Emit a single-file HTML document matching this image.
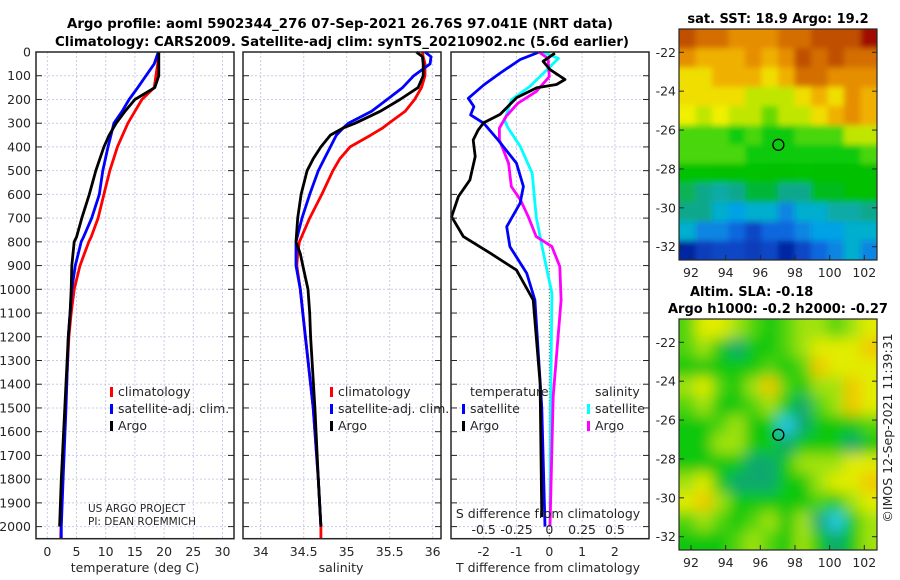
<!DOCTYPE html>
<html><head><meta charset="utf-8">
<style>
html,body{margin:0;padding:0;background:#fff;}
svg{display:block;font-family:"DejaVu Sans","Liberation Sans",sans-serif;}
</style></head>
<body>
<svg id="fig" width="900" height="580" viewBox="0 0 900 580" xmlns="http://www.w3.org/2000/svg">
<defs>
<clipPath id="clipSST"><rect x="679" y="29" width="198" height="231"/></clipPath>
<clipPath id="clipSLA"><rect x="679" y="319" width="198" height="231"/></clipPath>
<filter id="blurS" x="-20%" y="-20%" width="140%" height="140%"><feGaussianBlur stdDeviation="3"/></filter>
<filter id="blurL" x="-20%" y="-20%" width="140%" height="140%"><feGaussianBlur stdDeviation="7"/></filter>
</defs>
<g id="titles">
<text x="340" y="28" text-anchor="middle" font-weight="bold" font-size="13" textLength="546" lengthAdjust="spacingAndGlyphs">Argo profile: aoml 5902344_276 07-Sep-2021 26.76S 97.041E (NRT data)</text>
<text x="342" y="46" text-anchor="middle" font-weight="bold" font-size="13" textLength="574" lengthAdjust="spacingAndGlyphs">Climatology: CARS2009. Satellite-adj clim: synTS_20210902.nc (5.6d earlier)</text>
</g>
<g id="layer"></g>
</svg>
<script>
// ---------- data ----------
const tempDepths = [0,50,100,150,200,250,300,350,400,500,600,700,780,800,900,1000,1100,1200,1500,1800,2000,2050];
const tempClim   = [19.1,18.9,18.6,18.3,16.2,15.0,13.8,12.9,12.0,10.7,9.7,8.7,7.5,7.1,5.6,4.6,4.1,3.7,3.1,2.6,2.35,2.3];
const tempSat    = [19.0,18.3,16.9,15.5,14.0,12.8,11.4,10.9,10.4,9.5,8.9,7.6,6.2,5.8,4.8,4.2,3.9,3.6,3.2,2.7,2.4,2.4];
const tempArgo   = [19.1,19.1,19.1,18.4,15.0,13.3,11.8,10.6,9.7,8.3,7.2,5.9,5.0,4.6,4.2,4.1,3.9,3.6,3.0,2.4,2.1,null];

const salDepths = [0,20,50,100,150,200,250,300,320,350,400,450,500,600,700,800,850,900,1000,1100,1200,1500,1800,2000,2050];
const salClim   = [35.88,35.89,35.91,35.91,35.87,35.79,35.68,35.49,35.42,35.28,35.04,34.92,34.84,34.71,34.57,34.45,34.43,34.42,34.46,34.49,34.52,34.61,34.67,34.70,34.70];
const salSat    = [35.91,35.98,35.97,35.78,35.65,35.47,35.29,35.02,34.96,34.88,34.81,34.74,34.67,34.57,34.48,34.41,34.41,34.41,34.46,34.49,34.52,34.61,34.67,34.70,null];
const salArgo   = [35.81,35.88,35.89,35.89,35.83,35.62,35.39,35.10,34.96,34.81,34.70,34.61,34.54,34.47,34.43,34.41,34.46,34.49,34.55,34.57,34.58,34.63,34.67,34.70,null];

const dTsatDepths = [2,32,89,139,195,230,265,300,371,469,567,637,736,820,932,1045,1500,2000];
const dTsat       = [-0.34,-0.89,-1.5,-2.0,-2.47,-2.3,-2.4,-2.0,-1.56,-1.0,-0.79,-0.89,-1.3,-1.2,-0.69,-0.44,-0.23,-0.13];
const dTargoDepths = [5,39,74,116,137,151,193,263,298,329,371,441,539,609,694,778,848,919,1045,1395,1960];
const dTargo       = [0.17,-0.19,0.02,0.48,0.22,-0.38,-1.0,-1.5,-2.0,-2.17,-2.32,-2.26,-2.42,-2.77,-2.98,-2.62,-1.8,-1.0,-0.49,-0.28,-0.23];
const dSsatDepths = [0,27,76,146,202,287,315,399,511,694,834,1017,1500,2000];
const dSsat       = [-0.05,0.07,-0.02,-0.15,-0.29,-0.34,-0.32,-0.22,-0.13,-0.10,-0.05,0.02,0.01,0.005];
const dSargoDepths = [0,27,104,167,216,272,321,371,469,567,623,694,778,820,904,1045,1450,2000];
const dSargo       = [-0.08,-0.01,0.0,-0.1,-0.24,-0.33,-0.38,-0.38,-0.31,-0.29,-0.22,-0.16,-0.10,0.02,0.08,0.09,0.03,0.005];

const depthTicks = [0,100,200,300,400,500,600,700,800,900,1000,1100,1200,1300,1400,1500,1600,1700,1800,1900,2000];
const tempTicks = [0,5,10,15,20,25,30];
const salTicks = [34,34.5,35,35.5,36];
const salTickLabels = ["34","34.5","35","35.5","36"];
const dTTicks = [-2,-1,0,1,2];
const dSTicks = [-0.5,-0.25,0,0.25,0.5];
const dSTickLabels = ["-0.5","-0.25","0","0.25","0.5"];

const sstGrid = [
[22.5,22,22,21.5,21.5,21.5,22,22,22.5,22.5,22.5,23],
[21.5,21,21,21,21.5,21,21.5,22.5,22,22.5,22,22],
[20.5,20.5,21,21,21,20.5,21,22,22,21.5,21.5,21.5],
[20.5,20.5,20.5,20.5,20,20,20,20.5,21,20.5,21.5,21],
[20.3,20,20.3,20,20,19.6,20,20,20.5,21,21.5,21],
[19.5,19.5,19.5,19.2,19.5,19,19,19.5,19.5,19.5,20,20],
[19.5,19.5,19.5,19.5,19,19,19,19,19,19,19,19.5],
[18.6,18.6,18.5,18.5,18.6,18.5,18.5,18.6,18.5,18.5,18.5,18.5],
[18.2,18,17.8,18,18.3,18.3,18,18,18.4,18.4,18.5,18.5],
[18,18,17.5,17.2,17.5,17.5,17,17.5,17.5,17.8,17.8,18],
[17.5,17,17,16.8,16.5,16.8,16.8,17,17.2,17.2,17.5,17.5],
[16.2,16.4,16.5,16.5,16.4,16.5,16.2,16.5,16.8,17,17.5,17]];
const slaGrid = [
[3,5,5,4,3,2,3,4,4,3,4,5],
[3,4,2,1,2,2,3,4,5,5,5,6],
[2,2,2,2,2,3,2,3,6,5,5,5],
[4,5,3,2,4,6,3,2,4,4,6,5],
[3,4,2,2,3,4,2,1,3,4,6,5],
[2,2,3,4,2,2,0,1,2,2,2,3],
[2,2,4,4,2,2,1,2,2,2,1,2],
[2,2,2,2,1,1,2,4,4,4,5,5],
[4,5,2,1,1,1,2,2,4,5,5,6],
[5,6,4,2,2,2,2,2,3,2,4,5],
[3,4,3,2,3,4,2,4,1,0,2,4],
[2,2,2,3,4,3,2,4,2,1,2,4]];
const argoLon = 97.041, argoLat = -26.76;
const lonTicks = [92,94,96,98,100,102];
const latTicks = [-22,-24,-26,-28,-30,-32];

// ---------- scales ----------
const yD = d => 52 + d*0.2373;
const xT = t => 47.3 + t*5.84;
const xS = s => 260.7 + (s-34)*86;
const xdT = t => 549.3 + t*32.8;
const xdS = s => 549.3 + s*131.2;
const mapX = lon => 691 + (lon-92)*17.33;
const mapYtop = lat => 52.3 + (-22-lat)*19.44;
const mapYbot = lat => 342.3 + (-22-lat)*19.44;

const NS="http://www.w3.org/2000/svg";
const layer=document.getElementById('layer');
function mk(tag, attrs, parent){const e=document.createElementNS(NS,tag);for(const k in attrs)e.setAttribute(k,attrs[k]);(parent||layer).appendChild(e);return e;}
function txt(x,y,s,size,anchor,parent){const t=mk('text',{x:x,y:y,'font-size':size,'text-anchor':anchor||'middle',fill:'#262626'},parent);t.textContent=s;return t;}

const panels=[{x0:36,x1:234,name:'temperature-panel'},{x0:243,x1:441,name:'salinity-panel'},{x0:451,x1:649,name:'difference-panel'}];
const Y0=52, Y1=538.7;
panels.forEach((p,i)=>{
  const g=mk('g',{});
  
  
  p.g=g;
  depthTicks.forEach(d=>{
    const l=mk('line',{x1:p.x0,x2:p.x1,y1:yD(d),y2:yD(d),stroke:'#c9cde6','stroke-width':1,'stroke-dasharray':'2,2'},g);
    
    
  });
});
function vgrid(g,x){const l=mk('line',{x1:x,x2:x,y1:Y0,y2:Y1,stroke:'#c9cde6','stroke-width':1,'stroke-dasharray':'2,2'},g);
  
  }
tempTicks.forEach(t=>vgrid(panels[0].g,xT(t)));
salTicks.forEach(s=>vgrid(panels[1].g,xS(s)));
dTTicks.forEach(t=>vgrid(panels[2].g,xdT(t)));
const zl=mk('line',{x1:xdT(0),x2:xdT(0),y1:Y0,y2:Y1,stroke:'#6b6b30','stroke-width':1,'stroke-dasharray':'1,2'},panels[2].g);



function series(g,xs,ds,vals,color,name){
  let pts=[];
  for(let i=0;i<ds.length;i++){ if(vals[i]==null)continue; pts.push(xs(vals[i]).toFixed(1)+','+yD(ds[i]).toFixed(1)); }
  const pl=mk('polyline',{points:pts.join(' '),fill:'none',stroke:color,'stroke-width':2.8,'stroke-linejoin':'round'},g);
  
  
}
series(panels[0].g,xT,tempDepths,tempClim,'#ff0000','temp-climatology-line');
series(panels[0].g,xT,tempDepths,tempSat,'#0000ff','temp-satellite-line');
series(panels[0].g,xT,tempDepths,tempArgo,'#000000','temp-argo-line');
series(panels[1].g,xS,salDepths,salClim,'#ff0000','sal-climatology-line');
series(panels[1].g,xS,salDepths,salSat,'#0000ff','sal-satellite-line');
series(panels[1].g,xS,salDepths,salArgo,'#000000','sal-argo-line');
series(panels[2].g,xdS,dSsatDepths,dSsat,'#00ffff','sal-diff-satellite-line');
series(panels[2].g,xdS,dSargoDepths,dSargo,'#ff00ff','sal-diff-argo-line');
series(panels[2].g,xdT,dTsatDepths,dTsat,'#0000ff','temp-diff-satellite-line');
series(panels[2].g,xdT,dTargoDepths,dTargo,'#000000','temp-diff-argo-line');

panels.forEach(p=>{
  const g=p.g;
  const b=mk('rect',{x:p.x0,y:Y0,width:p.x1-p.x0,height:Y1-Y0,fill:'none',stroke:'#262626','stroke-width':1.5},g);
  
  
  depthTicks.forEach(d=>{
    mk('line',{x1:p.x0,x2:p.x0+6,y1:yD(d),y2:yD(d),stroke:'#262626','stroke-width':1},g);
    mk('line',{x1:p.x1-6,x2:p.x1,y1:yD(d),y2:yD(d),stroke:'#262626','stroke-width':1},g);
  });
});
const yl=mk('g',{});


depthTicks.forEach(d=>txt(31,yD(d)+4.5,String(d),12.5,'end',yl));
const tl=mk('g',{});


tempTicks.forEach(t=>txt(xT(t),556,String(t),12.5,'middle',tl));
const sl=mk('g',{});


salTicks.forEach((s,i)=>txt(xS(s),556,salTickLabels[i],12.5,'middle',sl));
const dtl=mk('g',{});


dTTicks.forEach(t=>txt(xdT(t),556,String(t),12.5,'middle',dtl));
const dsl=mk('g',{});


dSTicks.forEach((s,i)=>txt(xdS(s),534,dSTickLabels[i],12.5,'middle',dsl));
let t;
t=txt(135,572,'temperature (deg C)',12.5);
t=txt(341,572,'salinity',12.5);
t=txt(548,572,'T difference from climatology',12.5);
t=txt(548,518,'S difference from climatology',12.5);
t=txt(88,512,'US ARGO PROJECT',10.5,'start');
t=txt(88,525,'PI: DEAN ROEMMICH',10.5,'start');

function legend(x,y,items,name){
  const g=mk('g',{});
  
  
  items.forEach((it,i)=>{
    mk('rect',{x:x,y:y+i*17-9,width:3,height:10,fill:it[1]},g);
    txt(x+8,y+i*17,it[0],12.5,'start',g);
  });
}
legend(110,396,[['climatology','#ff0000'],['satellite-adj. clim.','#0000ff'],['Argo','#000000']],'temperature-legend');
legend(330,396,[['climatology','#ff0000'],['satellite-adj. clim.','#0000ff'],['Argo','#000000']],'salinity-legend');
t=txt(470,396,'temperature',12.5,'start');
t=txt(595,396,'salinity',12.5,'start');
legend(462,413,[['satellite','#0000ff'],['Argo','#000000']],'diff-temp-legend');
legend(587,413,[['satellite','#00ffff'],['Argo','#ff00ff']],'diff-sal-legend');

// ---------- maps ----------
function lerpColor(stops,v){
  if(v<=stops[0][0])return 'rgb('+stops[0][1].join(',')+')';
  for(let i=1;i<stops.length;i++){
    if(v<=stops[i][0]){const a=stops[i-1],b=stops[i];const f=(v-a[0])/(b[0]-a[0]);
      const ca=a[1],cb=b[1];return 'rgb('+[0,1,2].map(k=>Math.round(ca[k]+(cb[k]-ca[k])*f)).join(',')+')';}
  }
  return 'rgb('+stops[stops.length-1][1].join(',')+')';
}
const sstStops=[[16,[0,20,140]],[16.7,[16,90,220]],[17.3,[0,176,232]],[18,[16,168,140]],[18.5,[0,192,0]],[19.3,[16,208,16]],[19.8,[160,224,0]],[20.3,[240,240,0]],[21,[240,176,0]],[21.7,[224,128,0]],[22.5,[192,80,0]],[23,[160,16,0]]];
const slaStops=[[0,[40,200,230]],[1,[16,168,110]],[2,[16,200,16]],[3,[80,212,16]],[4,[160,226,10]],[5,[225,236,0]],[6,[240,200,0]]];
function drawMap(grid,stops,y0,clip,filt,name){
  const outer=mk('g',{'clip-path':'url(#'+clip+')'});
  
  
  const inner=mk('g',{filter:'url(#'+filt+')'},outer);
  const rows=grid.length, cols=grid[0].length;
  const W=198/cols, H=231/rows;
  for(let r=0;r<rows;r++)for(let c=0;c<cols;c++){
    let x=679+c*W, y=y0+r*H, w=W+0.6, h=H+0.6;
    if(c==0){x-=15;w+=15;} if(c==cols-1){w+=15;}
    if(r==0){y-=15;h+=15;} if(r==rows-1){h+=15;}
    const cell=mk('rect',{x:x.toFixed(1),y:y.toFixed(1),width:w.toFixed(1),height:h.toFixed(1),fill:lerpColor(stops,grid[r][c])},inner);
    
    
  }
}
drawMap(sstGrid,sstStops,29,'clipSST','blurS','sst-map');
drawMap(slaGrid,slaStops,319,'clipSLA','blurL','sla-map');
[[29,mapYtop,'sst'],[319,mapYbot,'sla']].forEach(m=>{
  const g=mk('g',{});
  
  
  mk('rect',{x:679,y:m[0],width:198,height:231,fill:'none',stroke:'#262626','stroke-width':1.2},g);
  latTicks.forEach(l=>{const y=m[1](l);
    mk('line',{x1:679,x2:684,y1:y,y2:y,stroke:'#262626'},g);mk('line',{x1:872,x2:877,y1:y,y2:y,stroke:'#262626'},g);
    txt(676,y+4.5,String(l),12.5,'end',g);});
  lonTicks.forEach(l=>{const x=mapX(l);
    mk('line',{x1:x,x2:x,y1:m[0]+231-5,y2:m[0]+231,stroke:'#262626'},g);
    txt(x,m[0]+231+17,String(l),12.5,'middle',g);});
  const c=mk('circle',{cx:mapX(argoLon),cy:m[1](argoLat),r:5.5,fill:'none',stroke:'#000','stroke-width':1.3},g);
  
  
});
t=txt(778,23,'sat. SST: 18.9 Argo: 19.2',13);t.setAttribute('font-weight','bold');t.setAttribute('fill','#000');

t=txt(690,296,'Altim. SLA: -0.18',13,'start');t.setAttribute('font-weight','bold');t.setAttribute('fill','#000');

t=txt(778,313,'Argo h1000: -0.2 h2000: -0.27',13);t.setAttribute('font-weight','bold');t.setAttribute('fill','#000');

t=txt(0,0,'©IMOS 12-Sep-2021 11:39:31',12.5);t.setAttribute('transform','translate(892,428) rotate(-90)');

</script>
</body></html>
